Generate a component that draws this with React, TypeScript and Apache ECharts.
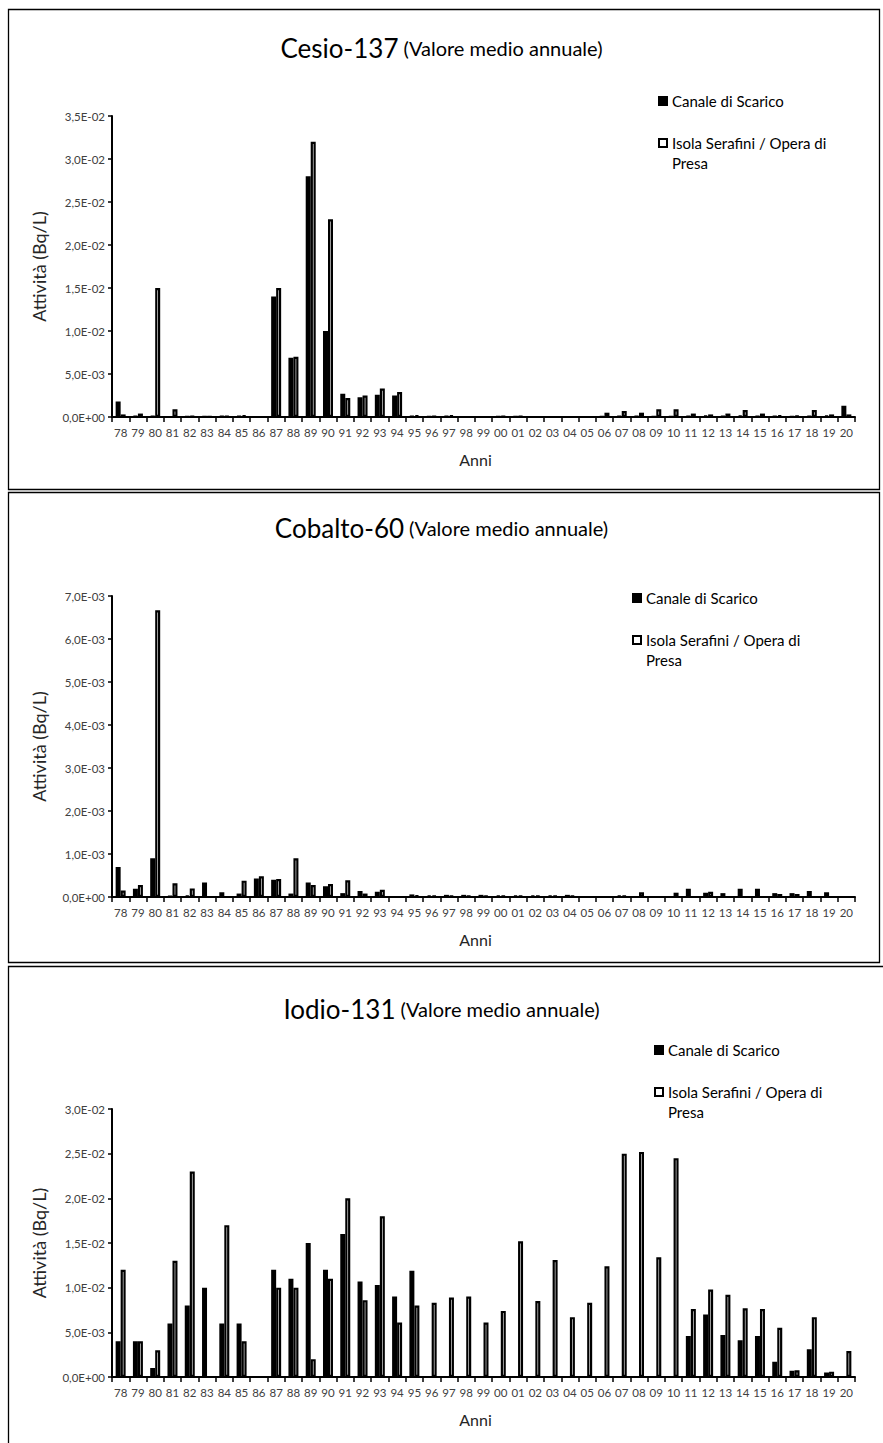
import React, { useEffect, useRef } from 'react';
import * as echarts from 'echarts';

// ---------- Data ----------
const years = [
  '78', '79', '80', '81', '82', '83', '84', '85', '86', '87', '88', '89', '90', '91', '92',
  '93', '94', '95', '96', '97', '98', '99', '00', '01', '02', '03', '04', '05', '06', '07',
  '08', '09', '10', '11', '12', '13', '14', '15', '16', '17', '18', '19', '20',
];

const seriesNames = ['Canale di Scarico', 'Isola Serafini / Opera di Presa'];

// Cesio-137 (Bq/L)
const cesioCanale = [
  1.8e-3, 1e-4, 1e-4, null, 5e-5, 5e-5, 1e-4, 1e-4, null, 1.4e-2, 6.9e-3, 2.8e-2, 1.0e-2, 2.7e-3, 2.3e-3,
  2.6e-3, 2.5e-3, 1e-4, 5e-5, 1e-4, null, null, 5e-5, 5e-5, null, null, null, null, 5e-5, 1e-4,
  1e-4, 5e-5, 5e-5, 1e-4, 2e-4, 1e-4, 2e-4, 1e-4, 1e-4, 5e-5, 1e-4, 2e-4, 1.3e-3,
];
const cesioIsola = [
  3e-4, 4e-4, 1.5e-2, 9e-4, 1e-4, 5e-5, 1e-4, 2e-4, null, 1.5e-2, 7.0e-3, 3.2e-2, 2.3e-2, 2.2e-3, 2.5e-3,
  3.3e-3, 2.9e-3, 2e-4, 1e-4, 2e-4, null, null, 1e-4, 1e-4, null, null, null, null, 5e-4, 7e-4,
  5e-4, 9e-4, 9e-4, 4e-4, 3e-4, 4e-4, 8e-4, 4e-4, 2e-4, 1.5e-4, 8e-4, 3e-4, 3e-4,
];

// Cobalto-60 (Bq/L)
const cobaltoCanale = [
  7e-4, 1.9e-4, 9e-4, 2e-5, 4e-5, 3.4e-4, 1.1e-4, 8e-5, 4.3e-4, 4e-4, 8e-5, 3.4e-4, 2.5e-4, 9e-5, 1.4e-4,
  1.2e-4, null, 6e-5, 4e-5, 5e-5, 5e-5, 5e-5, 4e-5, 4e-5, 4e-5, 4e-5, 5e-5, null, null, 4e-5,
  null, null, null, 1.9e-4, 1e-4, 9e-5, 1.9e-4, 1.9e-4, 9e-5, 9e-5, 1.4e-4, 1.1e-4, null,
];
const cobaltoIsola = [
  1.5e-4, 2.8e-4, 6.67e-3, 3.2e-4, 2e-4, null, null, 3.8e-4, 4.8e-4, 4.2e-4, 9e-4, 2.8e-4, 3e-4, 3.9e-4, 8e-5,
  1.7e-4, null, 4e-5, 3e-5, 3e-5, 3e-5, 3e-5, 3e-5, 3e-5, 3e-5, 3e-5, 3e-5, null, null, 3e-5,
  1.1e-4, null, 1.0e-4, null, 1.2e-4, null, null, null, 7e-5, 7e-5, null, null, null,
];

// Iodio-131 (Bq/L)
const iodioCanale = [
  4e-3, 4e-3, 1e-3, 6e-3, 8e-3, 1.0e-2, 6e-3, 6e-3, null, 1.2e-2, 1.1e-2, 1.5e-2, 1.2e-2, 1.6e-2, 1.07e-2,
  1.03e-2, 9e-3, 1.19e-2, null, null, null, null, null, null, null, null, null, null, null, null,
  null, null, null, 4.6e-3, 7e-3, 4.7e-3, 4.1e-3, 4.6e-3, 1.7e-3, 7e-4, 3.1e-3, 5e-4, null,
];
const iodioIsola = [
  1.2e-2, 4e-3, 3e-3, 1.3e-2, 2.3e-2, null, 1.7e-2, 4e-3, null, 1.0e-2, 1.0e-2, 2e-3, 1.1e-2, 2.0e-2, 8.6e-3,
  1.8e-2, 6.1e-3, 8e-3, 8.3e-3, 8.9e-3, 9.0e-3, 6.1e-3, 7.4e-3, 1.52e-2, 8.5e-3, 1.31e-2, 6.7e-3, 8.3e-3, 1.24e-2, 2.5e-2,
  2.52e-2, 1.34e-2, 2.45e-2, 7.6e-3, 9.8e-3, 9.2e-3, 7.7e-3, 7.6e-3, 5.5e-3, 7.5e-4, 6.7e-3, 6e-4, 2.9e-3,
];

const titles = ['Cesio-137', 'Cobalto-60', 'Iodio-131'];
const subtitle = '(Valore medio annuale)';
const yMax = [0.035, 0.007, 0.03];
const yInterval = [0.005, 0.001, 0.005];

// ---------- Layout ----------
const FONT = 'Lato, "Open Sans", sans-serif';
const panels = [
  { gridTop: 116, gridHeight: 301, titleTop: 30, legendLeft: 658, legendTop: 91, canale: cesioCanale, isola: cesioIsola },
  { gridTop: 596, gridHeight: 301, titleTop: 510, legendLeft: 632, legendTop: 588, canale: cobaltoCanale, isola: cobaltoIsola },
  { gridTop: 1109, gridHeight: 268, titleTop: 991, legendLeft: 654, legendTop: 1040, canale: iodioCanale, isola: iodioIsola },
];

function sciLabel(v: number): string {
  if (v === 0) return '0,0E+00';
  const s = v.toExponential(1);
  const [m, e] = s.split('e');
  const n = parseInt(e, 10);
  const sign = n < 0 ? '-' : '+';
  return m.replace('.', ',') + 'E' + sign + String(Math.abs(n)).padStart(2, '0');
}

export default function App() {
  const ref = useRef<HTMLDivElement>(null);

  useEffect(() => {
    if (!ref.current) return;
    const chart = echarts.init(ref.current, undefined, { renderer: 'svg' });

    const grid: any[] = [];
    const xAxis: any[] = [];
    const yAxis: any[] = [];
    const series: any[] = [];
    const title: any[] = [];
    const legend: any[] = [];

    panels.forEach((p, i) => {
      grid.push({ left: 112, width: 743, top: p.gridTop, height: p.gridHeight });
      xAxis.push({
        type: 'category',
        gridIndex: i,
        data: years,
        axisLine: { lineStyle: { color: '#000', width: 2 } },
        axisTick: { show: true, length: 5, lineStyle: { color: '#000', width: 1.5 } },
        axisLabel: { interval: 0, fontSize: 11.5, color: '#404040', margin: 9, fontFamily: FONT },
        name: 'Anni',
        nameLocation: 'middle',
        nameGap: 34,
        nameTextStyle: { fontSize: 16, color: '#262626', fontFamily: FONT, padding: [0, 16, 0, 0] },
      });
      yAxis.push({
        type: 'value',
        gridIndex: i,
        min: 0,
        max: yMax[i],
        interval: yInterval[i],
        axisLine: { show: true, lineStyle: { color: '#000', width: 2 } },
        axisTick: { show: true, length: 4, lineStyle: { color: '#000', width: 1.5 } },
        splitLine: { show: false },
        axisLabel: { formatter: sciLabel, fontSize: 11.5, color: '#404040', margin: 7, fontFamily: FONT },
        name: 'Attività (Bq/L)',
        nameLocation: 'middle',
        nameRotate: 90,
        nameGap: 64,
        nameTextStyle: { fontSize: 18, color: '#262626', fontFamily: FONT },
      });
      series.push({
        type: 'bar',
        name: seriesNames[0],
        xAxisIndex: i,
        yAxisIndex: i,
        data: p.canale,
        barWidth: 5,
        barGap: '0%',
        itemStyle: { color: '#000', borderColor: '#000', borderWidth: 2 },
      });
      series.push({
        type: 'bar',
        name: seriesNames[1],
        xAxisIndex: i,
        yAxisIndex: i,
        data: p.isola,
        barWidth: 5,
        barGap: '0%',
        itemStyle: { color: '#fff', borderColor: '#000', borderWidth: 2.2 },
      });
      title.push({
        text: '{a|' + titles[i] + '} {b|' + subtitle + '}',
        left: 'center',
        top: p.titleTop,
        textStyle: {
          fontWeight: 'normal',
          rich: {
            a: { fontSize: 26, color: '#000', fontFamily: FONT, fontWeight: 'normal' },
            b: { fontSize: 20, color: '#000', fontFamily: FONT, fontWeight: 'normal' },
          },
        },
      });
      legend.push({
        orient: 'vertical',
        left: p.legendLeft,
        top: p.legendTop,
        padding: 0,
        itemGap: 2,
        itemWidth: 8,
        itemHeight: 8,
        icon: 'rect',
        selectedMode: false,
        itemStyle: { borderWidth: 2, borderColor: '#000' },
        formatter: (name: string) => (name === seriesNames[1] ? '\nIsola Serafini / Opera di\nPresa' : name),
        textStyle: { fontSize: 15, lineHeight: 20, color: '#000', fontFamily: FONT },
        data: [{ name: seriesNames[0] }, { name: seriesNames[1] }],
      });
    });

    const border = { fill: 'none', stroke: '#000', lineWidth: 1.3 };
    const graphic = [
      { type: 'rect', silent: true, shape: { x: 8.5, y: 9.5, width: 871, height: 480 }, style: border },
      { type: 'rect', silent: true, shape: { x: 8.5, y: 492.5, width: 871, height: 470 }, style: border },
      { type: 'rect', silent: true, shape: { x: 8.5, y: 966.5, width: 900, height: 520 }, style: border },
    ];

    chart.setOption({
      animation: false,
      backgroundColor: '#fff',
      title,
      legend,
      grid,
      xAxis,
      yAxis,
      series,
      graphic,
    });

    return () => chart.dispose();
  }, []);

  return (
    <div
      ref={ref}
      style={{ position: 'absolute', left: 0, top: 0, width: 883, height: 1443, background: '#fff' }}
    />
  );
}
